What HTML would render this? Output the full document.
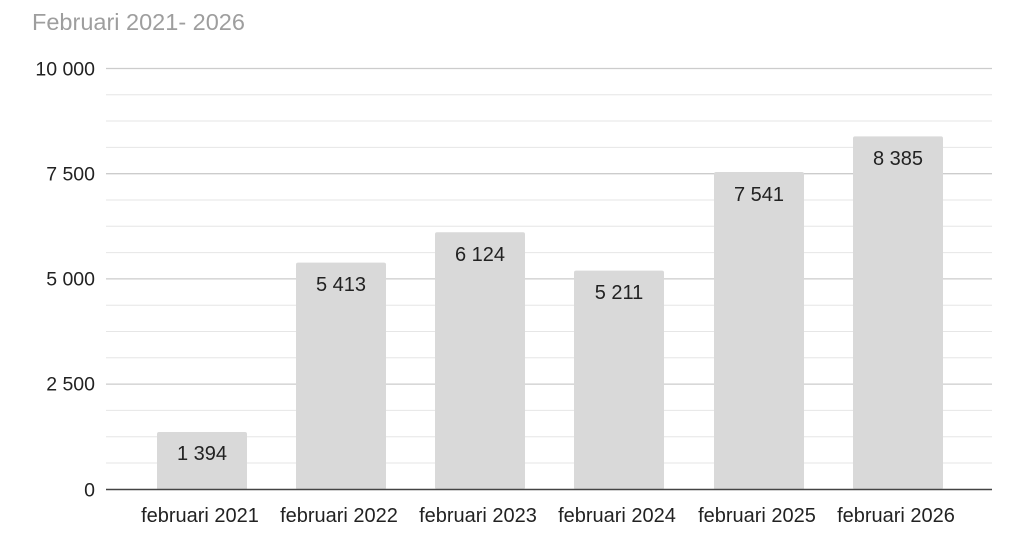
<!DOCTYPE html>
<html><head><style>
body{margin:0;background:#fff;}
svg{display:block;font-family:"Liberation Sans",Arial,sans-serif;}
</style></head><body>
<svg width="1024" height="556" viewBox="0 0 1024 556">
<text x="32" y="30" font-size="23.5" fill="#9e9e9e">Februari 2021- 2026</text>
<g stroke="#e6e6e6" stroke-width="1">
<line x1="106" x2="992" y1="94.7" y2="94.7"/><line x1="106" x2="992" y1="121" y2="121"/><line x1="106" x2="992" y1="147.4" y2="147.4"/>
<line x1="106" x2="992" y1="200" y2="200"/><line x1="106" x2="992" y1="226.3" y2="226.3"/><line x1="106" x2="992" y1="252.6" y2="252.6"/>
<line x1="106" x2="992" y1="305.2" y2="305.2"/><line x1="106" x2="992" y1="331.5" y2="331.5"/><line x1="106" x2="992" y1="357.8" y2="357.8"/>
<line x1="106" x2="992" y1="410.4" y2="410.4"/><line x1="106" x2="992" y1="436.7" y2="436.7"/><line x1="106" x2="992" y1="463" y2="463"/>
</g>
<g stroke="#cccccc" stroke-width="1.3">
<line x1="106" x2="992" y1="68.5" y2="68.5"/><line x1="106" x2="992" y1="173.7" y2="173.7"/><line x1="106" x2="992" y1="278.9" y2="278.9"/><line x1="106" x2="992" y1="384.1" y2="384.1"/>
</g>
<g font-size="19.5" fill="#222" text-anchor="end">
<text x="95" y="75.5">10 000</text><text x="95" y="180.5">7 500</text><text x="95" y="285.5">5 000</text><text x="95" y="390.5">2 500</text><text x="95" y="496.5">0</text>
</g>
<g fill="#d9d9d9">
<rect x="157" y="432" width="90" height="58" rx="2"/>
<rect x="296" y="262.6" width="90" height="227" rx="2"/>
<rect x="435" y="232.3" width="90" height="257" rx="2"/>
<rect x="574" y="270.6" width="90" height="219" rx="2"/>
<rect x="714" y="172" width="90" height="318" rx="2"/>
<rect x="853" y="136.4" width="90" height="353" rx="2"/>
</g>
<line x1="106" x2="992" y1="489.5" y2="489.5" stroke="#444" stroke-width="1.5"/>
<g font-size="20" fill="#222" text-anchor="middle">
<text x="202" y="460">1 394</text>
<text x="341" y="291">5 413</text>
<text x="480" y="261">6 124</text>
<text x="619" y="299">5 211</text>
<text x="759" y="201">7 541</text>
<text x="898" y="165">8 385</text>
</g>
<g font-size="20" fill="#222" text-anchor="middle">
<text x="200" y="522">februari 2021</text>
<text x="339" y="522">februari 2022</text>
<text x="478" y="522">februari 2023</text>
<text x="617" y="522">februari 2024</text>
<text x="757" y="522">februari 2025</text>
<text x="896" y="522">februari 2026</text>
</g>
</svg>
</body></html>
